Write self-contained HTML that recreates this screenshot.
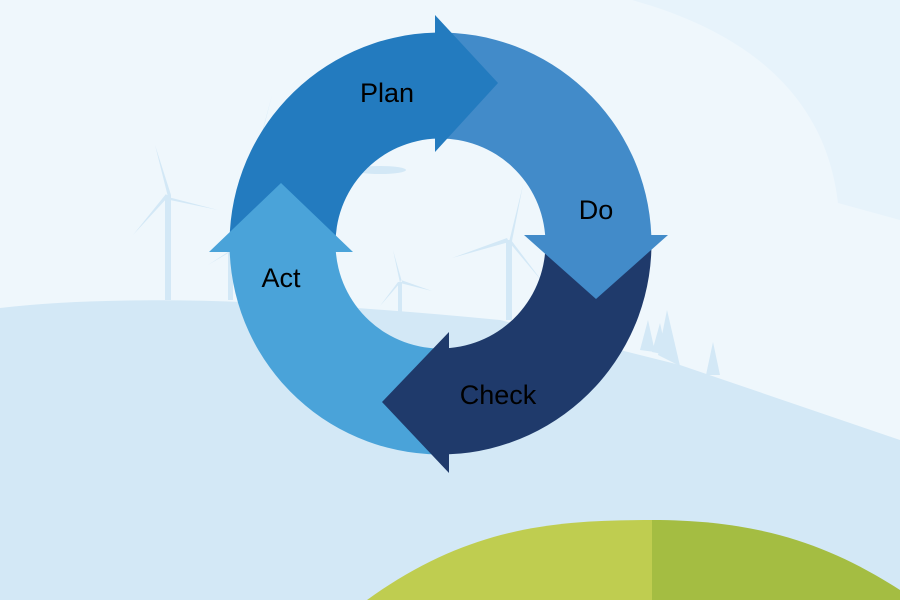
<!DOCTYPE html>
<html><head><meta charset="utf-8"><style>
html,body{margin:0;padding:0;width:900px;height:600px;overflow:hidden;background:#eff7fc}
svg{display:block}
text{font-family:"Liberation Sans",sans-serif;font-size:27px;fill:#000}
</style></head><body>
<svg width="900" height="600" viewBox="0 0 900 600" xmlns="http://www.w3.org/2000/svg">
<rect width="900" height="600" fill="#eff7fc"/>
<path d="M632,0 C740,30 825,90 838,203 L900,220 V0 Z" fill="#e7f3fb"/>
<g fill="#d3e8f6" stroke="none">
 <rect x="165" y="195" width="6" height="105"/>
 <path d="M168,197 L155,145 L171,195 Z M168,197 L218,210 L170,200 Z M168,197 L133,235 L166,194 Z"/>
 <rect x="228" y="250" width="5" height="50"/>
 <path d="M230,252 L208,265 L231,250 Z M230,252 L272,95 L233,250 Z"/>
 <rect x="506" y="240" width="6" height="80"/>
 <path d="M509,242 L523,185 L512,241 Z M509,242 L452,258 L507,238 Z M509,242 L545,285 L511,240 Z"/>
 <rect x="398" y="282" width="4" height="30"/>
 <path d="M400,283 L393,250 L402,282 Z M400,283 L432,291 L401,280 Z M400,283 L380,306 L398,282 Z"/>
 <ellipse cx="380" cy="170" rx="26" ry="4"/>
 <path d="M640,350 L648,320 L655,352 Z M652,352 L660,323 L667,355 Z M658,355 L667,310 L680,366 Z M706,375 L713,342 L720,375 Z"/>
 <path d="M0,308 Q170,288 500,320 L680,365 L900,440 V600 H0 Z"/>
</g>
<path d="M367,600 C470,525 560,520 652,520 L652,600 Z" fill="#bfcd50"/>
<path d="M652,520 C760,520 830,545 900,590 V600 H652 Z" fill="#a4bd42"/>
<path d="M229.7,252 A211,211 0 0 1 435,32.6 L437.8,138.5 A105,105 0 0 0 335.6,247.7 Z" fill="#237bbf"/>
<path d="M435,32.6 A211,211 0 0 1 651.3,235 L545.4,239.3 A105,105 0 0 0 437.8,138.5 Z" fill="#428bc9"/>
<path d="M651.3,235 A211,211 0 0 1 449,454.3 L444.7,348.4 A105,105 0 0 0 545.4,239.3 Z" fill="#1f3a6b"/>
<path d="M449,454.3 A211,211 0 0 1 229.7,252 L335.6,247.7 A105,105 0 0 0 444.7,348.4 Z" fill="#4aa3d9"/>
<path d="M435,15 L498,83 L435,152 Z" fill="#237bbf"/>
<path d="M524,235 L668,235 L596,299 Z" fill="#428bc9"/>
<path d="M449,332 L449,473 L382,402 Z" fill="#1f3a6b"/>
<path d="M209,252 L353,252 L281,183 Z" fill="#4aa3d9"/>
<text x="387" y="102" text-anchor="middle">Plan</text>
<text x="596" y="219" text-anchor="middle">Do</text>
<text x="281" y="287" text-anchor="middle">Act</text>
<text x="498" y="404" text-anchor="middle">Check</text>
</svg>
</body></html>
